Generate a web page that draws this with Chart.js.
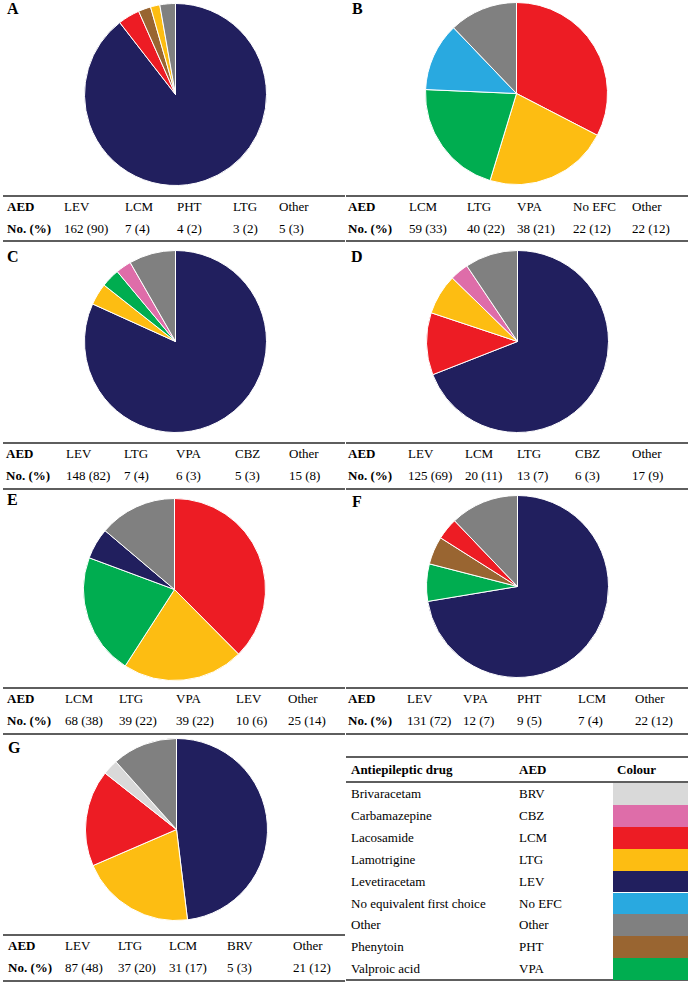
<!DOCTYPE html>
<html>
<head>
<meta charset="utf-8">
<script src="https://cdn.jsdelivr.net/npm/chart.js@4.4.1/dist/chart.umd.min.js"></script>
<style>
  body { margin: 0; background: #fff; font-family: "Liberation Serif", "Times New Roman", serif; color: #000; }
  #page { position: relative; width: 690px; height: 983px; overflow: hidden; }
  .abs { position: absolute; white-space: nowrap; }
  .txt { font-size: 13px; line-height: 16px; height: 16px; }
  .b { font-weight: bold; }
  .panelLabel { font-size: 16px; font-weight: bold; line-height: 20px; }
  .rule { position: absolute; height: 2px; background: #5e5e5e; }
  .swatch { position: absolute; }
  canvas { position: absolute; }
</style>
</head>
<body>
<div id="page"></div>
<script>
// panel A
const aLabels = ["LEV", "LCM", "PHT", "LTG", "Other"];
const aCounts = [162, 7, 4, 3, 5];
const aPct = [90, 4, 2, 2, 3];
// panel B
const bLabels = ["LCM", "LTG", "VPA", "No EFC", "Other"];
const bCounts = [59, 40, 38, 22, 22];
const bPct = [33, 22, 21, 12, 12];
// panel C
const cLabels = ["LEV", "LTG", "VPA", "CBZ", "Other"];
const cCounts = [148, 7, 6, 5, 15];
const cPct = [82, 4, 3, 3, 8];
// panel D
const dLabels = ["LEV", "LCM", "LTG", "CBZ", "Other"];
const dCounts = [125, 20, 13, 6, 17];
const dPct = [69, 11, 7, 3, 9];
// panel E
const eLabels = ["LCM", "LTG", "VPA", "LEV", "Other"];
const eCounts = [68, 39, 39, 10, 25];
const ePct = [38, 22, 22, 6, 14];
// panel F
const fLabels = ["LEV", "VPA", "PHT", "LCM", "Other"];
const fCounts = [131, 12, 9, 7, 22];
const fPct = [72, 7, 5, 4, 12];
// panel G
const gLabels = ["LEV", "LTG", "LCM", "BRV", "Other"];
const gCounts = [87, 37, 31, 5, 21];
const gPct = [48, 20, 17, 3, 12];

// colour key table
const keyNames = ["Brivaracetam", "Carbamazepine", "Lacosamide", "Lamotrigine", "Levetiracetam",
  "No equivalent first choice", "Other", "Phenytoin", "Valproic acid"];
const keyCodes = ["BRV", "CBZ", "LCM", "LTG", "LEV", "No EFC", "Other", "PHT", "VPA"];

const drugColours = {
  "BRV": "#d9d9d9",
  "CBZ": "#de6da9",
  "LCM": "#ed1c24",
  "LTG": "#fdbd12",
  "LEV": "#211f5e",
  "No EFC": "#29a9e0",
  "Other": "#808080",
  "PHT": "#996531",
  "VPA": "#00ad50"
};

const page = document.getElementById("page");

// layout of each panel: pie centre, table rule, column x positions
const panels = [
  { name: "A", labels: aLabels, counts: aCounts, pct: aPct, lx: 7, ly: 9, cx: 175.5, cy: 94.5, lineY: 195.5, x0: 3, cols: [7, 64, 125, 177, 233, 279] },
  { name: "B", labels: bLabels, counts: bCounts, pct: bPct, lx: 352, ly: 8.5, cx: 516.5, cy: 93.5, lineY: 195.5, x0: 346, cols: [348, 409, 467, 517, 573, 632] },
  { name: "C", labels: cLabels, counts: cCounts, pct: cPct, lx: 7, ly: 257, cx: 175.5, cy: 341.5, lineY: 443, x0: 3, cols: [6, 66, 124, 176, 235, 289] },
  { name: "D", labels: dLabels, counts: dCounts, pct: dPct, lx: 351, ly: 257, cx: 517, cy: 341.5, lineY: 443, x0: 346, cols: [348, 408, 465, 517, 575, 632] },
  { name: "E", labels: eLabels, counts: eCounts, pct: ePct, lx: 7, ly: 500, cx: 174.5, cy: 589, lineY: 688, x0: 3, cols: [7, 65, 119, 176, 236, 288] },
  { name: "F", labels: fLabels, counts: fCounts, pct: fPct, lx: 352, ly: 502, cx: 517, cy: 586.5, lineY: 688, x0: 346, cols: [348, 407, 463, 517, 578, 635] },
  { name: "G", labels: gLabels, counts: gCounts, pct: gPct, lx: 8, ly: 748, cx: 176.5, cy: 829.5, lineY: 935, x0: 3, cols: [8, 65, 118, 169, 227, 293] }
];

function addText(str, x, cy, cls) {
  var el = document.createElement("div");
  el.className = "abs txt " + (cls || "");
  el.style.left = x + "px";
  el.style.top = (cy - 8) + "px";
  el.textContent = str;
  page.appendChild(el);
  return el;
}

function addRule(x, y, w) {
  var el = document.createElement("div");
  el.className = "rule";
  el.style.left = x + "px";
  el.style.top = Math.round(y - 1) + "px";
  el.style.width = w + "px";
  page.appendChild(el);
}

function drawPie(panel) {
  const size = 183;
  var canvas = document.createElement("canvas");
  canvas.width = size;
  canvas.height = size;
  canvas.style.left = (panel.cx - size / 2) + "px";
  canvas.style.top = (panel.cy - size / 2) + "px";
  canvas.style.width = size + "px";
  canvas.style.height = size + "px";
  page.appendChild(canvas);
  new Chart(canvas, {
    type: "pie",
    data: {
      labels: panel.labels,
      datasets: [{
        data: panel.counts,
        backgroundColor: panel.labels.map(function(c) { return drugColours[c]; }),
        borderColor: "#ffffff",
        borderWidth: 1
      }]
    },
    options: {
      responsive: false,
      animation: false,
      layout: { padding: 0 },
      plugins: { legend: { display: false }, tooltip: { enabled: false } }
    }
  });
}

function drawPanel(panel) {
  // panel letter
  var lab = document.createElement("div");
  lab.className = "abs panelLabel";
  lab.style.left = panel.lx + "px";
  lab.style.top = (panel.ly - 10) + "px";
  lab.textContent = panel.name;
  page.appendChild(lab);

  drawPie(panel);

  // small table under the pie
  addRule(panel.x0, panel.lineY, 342);
  addRule(panel.x0, panel.lineY + 45.5, 342);
  addText("AED", panel.cols[0], panel.lineY + 11, "b");
  addText("No. (%)", panel.cols[0], panel.lineY + 33, "b");
  panel.labels.forEach(function(code, i) {
    addText(code, panel.cols[i + 1], panel.lineY + 11);
    addText(panel.counts[i] + " (" + panel.pct[i] + ")", panel.cols[i + 1], panel.lineY + 33);
  });
}

panels.forEach(drawPanel);

// colour key
const keyTop = 757, keyHead = 782, rowH = 21.9;
addRule(346, keyTop, 342);
addRule(346, keyHead, 342);
addRule(346, keyHead + 1 + rowH * keyCodes.length, 342);
addText("Antiepileptic drug", 351, 770, "b");
addText("AED", 519, 770, "b");
addText("Colour", 617, 770, "b");
keyCodes.forEach(function(code, i) {
  var top = keyHead + 1 + rowH * i;
  addText(keyNames[i], 351, top + 11);
  addText(code, 519, top + 11);
  var sw = document.createElement("div");
  sw.className = "swatch";
  sw.style.left = "613px";
  sw.style.top = top + "px";
  sw.style.width = "75px";
  sw.style.height = rowH + "px";
  sw.style.background = drugColours[code];
  page.appendChild(sw);
});
</script>
</body>
</html>
